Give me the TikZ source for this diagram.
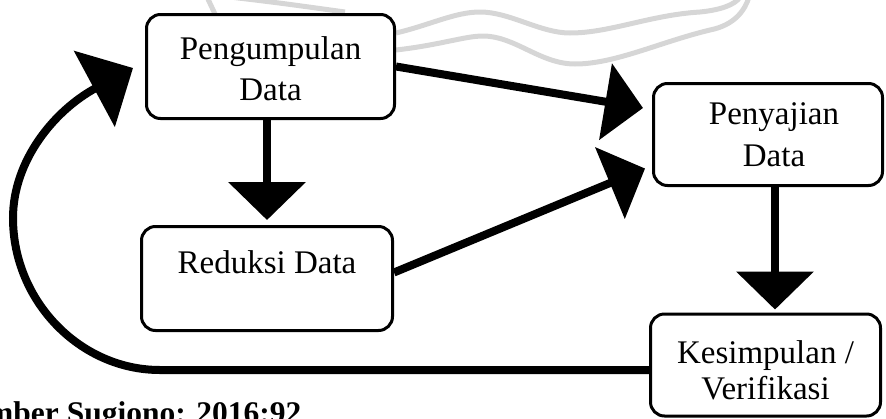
\documentclass[tikz,border=0pt]{standalone}
\usepackage{fontspec}
\setmainfont{Liberation Serif}
\usetikzlibrary{arrows.meta}
\begin{document}
\begin{tikzpicture}[x=1pt,y=-1pt,
  boxbase/.style={draw, line width=3pt, rounded corners=14pt, fill=white, inner sep=0pt},
  box/.style={boxbase, align=center, font=\fontsize{33}{41}\selectfont},
  flow/.style={line width=8pt, -{Triangle[length=38pt,width=76pt]}},
  flowbig/.style={line width=8pt, -{Triangle[length=44pt,width=85pt]}},
  wm/.style={draw=black!16, line width=5pt}]
\clip (0,0) rectangle (886,418);
% watermark
\draw[wm] (396,33) .. controls (430,25) and (455,12) .. (480,12) .. controls (510,12) and (540,33) .. (570,33) .. controls (610,33) and (650,15) .. (700,12) .. controls (720,10) and (735,5) .. (740,-3);
\draw[wm] (396,50) .. controls (440,45) and (465,36) .. (483,36) .. controls (515,36) and (540,64) .. (575,64) .. controls (615,64) and (660,42) .. (710,30) .. controls (735,25) and (745,10) .. (749,-3);
\draw[wm] (207,-3) -- (215,14);
\draw[wm] (230,-3) .. controls (280,3) .. (345,12);
% boxes
\node[box, minimum width=248pt, minimum height=104pt] (peng) at (270.5,66.5) {\rule{0pt}{28pt}Pengumpulan\\Data};
\node[boxbase, font=\fontsize{33}{41}\selectfont, text height=25pt, text depth=36pt,
      minimum width=251pt, minimum height=104pt] (red) at (267,278.5) {Reduksi Data};
\node[box, font=\fontsize{33}{42}\selectfont, minimum width=229pt, minimum height=102pt] (pen) at (768,134.5) {\hspace*{12pt}Penyajian\\\hspace*{12pt}Data};
\node[box, font=\fontsize{33}{36}\selectfont, minimum width=230pt, minimum height=102pt] (kes) at (765.5,365) {\rule{0pt}{34pt}Kesimpulan /\\Verifikasi};
% connectors
\draw[flow] (peng.east) -- ([shift={(-9,-26.5)}]pen.west);
\draw[flow] ([shift={(0,-6)}]red.east) -- ([shift={(-7,34)}]pen.west);
\draw[flow] ([xshift=-3.5pt]peng.south) -- ([shift={(0,-5)}]red.north);
\draw[flow] ([xshift=7pt]pen.south) -- ([shift={(9.5,-3)}]kes.north);
\draw[flowbig] ([shift={(0,5)}]kes.west) -- (160,370) .. controls (80,370) and (13,301) .. (13,218)
   .. controls (13,160) and (55,110) .. ([shift={(-12,1.5)}]peng.west);
% source
\node[anchor=base west, inner sep=0pt, font=\bfseries\fontsize{31.5}{36}\selectfont] (src) at (-13,423) {mber Sugiono: 2016:92};
\end{tikzpicture}
\end{document}
